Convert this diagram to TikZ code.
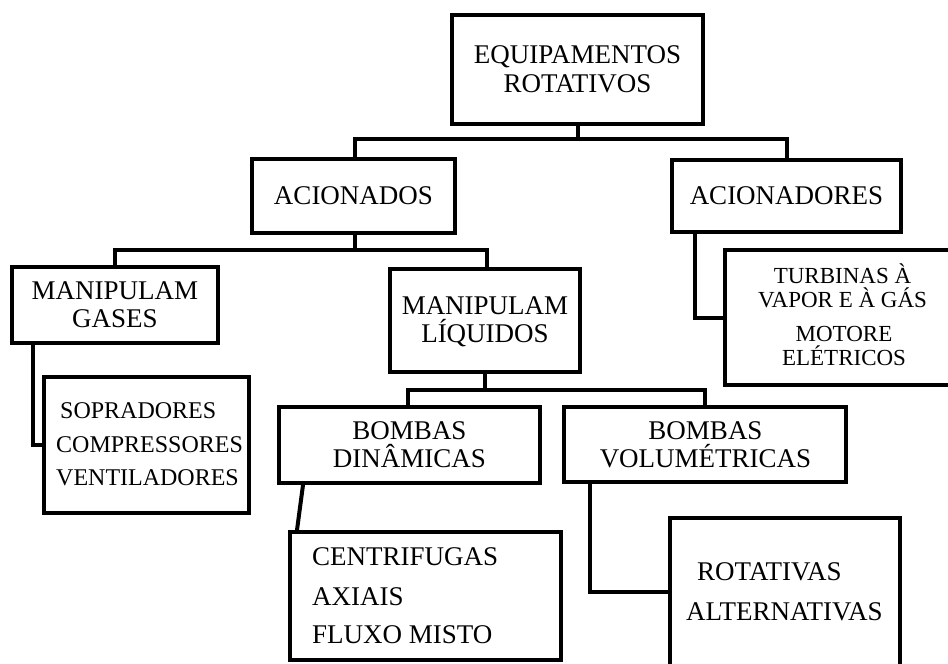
\documentclass[tikz,border=0pt]{standalone}
\usepackage{fontspec}
\setmainfont{Liberation Serif}
\begin{document}
\begin{tikzpicture}[x=1pt,y=-1pt,
  box/.style={draw, line width=4pt, inner sep=0pt, rectangle},
  conn/.style={line width=4pt, line join=miter},
  big/.style={font=\fontsize{27}{28}\selectfont, inner sep=0pt, align=center, anchor=base},
  bigl/.style={font=\fontsize{27}{28}\selectfont, inner sep=0pt, anchor=base west},
  mid/.style={font=\fontsize{24}{25}\selectfont, inner sep=0pt, anchor=base west},
  small/.style={font=\fontsize{23}{24}\selectfont, inner sep=0pt, align=center, anchor=base}]
\path[use as bounding box, clip] (0,0) rectangle (948,664);
\fill[white] (0,0) rectangle (948,664);

% boxes
\node[box, minimum width=251, minimum height=109] (top) at (577.5,69.5) {};
\node[box, minimum width=203, minimum height=74] (acionados) at (353.5,196) {};
\node[box, minimum width=229, minimum height=72] (acionadores) at (786.5,196) {};
\node[box, minimum width=206, minimum height=76] (gases) at (115,305) {};
\node[box, minimum width=190, minimum height=103] (liquidos) at (485,320.5) {};
\node[box, minimum width=205, minimum height=136] (sopr) at (146.5,445) {};
\node[box, minimum width=261, minimum height=76] (dinam) at (409.5,445) {};
\node[box, minimum width=282, minimum height=75] (volum) at (705,444.5) {};
\node[box, minimum width=271, minimum height=128] (centrif) at (425.5,596) {};
\node[box, minimum width=230, minimum height=180] (rotat) at (785,608) {};
\node[box, minimum width=253, minimum height=135] (turb) at (851.5,317.5) {};

% texts (base anchor = baseline of the last line)
\node[big] (ttop) at (577.5,92) {EQUIPAMENTOS\\[1pt]ROTATIVOS};
\node[big] (tacionados) at (353.5,204) {ACIONADOS};
\node[big] (tacionadores) at (786.5,204) {ACIONADORES};
\node[big] (tgases) at (115,327) {MANIPULAM\\GASES};
\node[big] (tliquidos) at (485,342) {MANIPULAM\\LÍQUIDOS};
\node[big] (tdinam) at (409.5,467) {BOMBAS\\DINÂMICAS};
\node[big] (tvolum) at (705.5,467) {BOMBAS\\VOLUMÉTRICAS};
\node[mid] (s1) at (60,418) {SOPRADORES};
\node[mid] (s2) at (56,452) {COMPRESSORES};
\node[mid] (s3) at (56,485) {VENTILADORES};
\node[bigl] (c1) at (312,565) {CENTRIFUGAS};
\node[bigl] (c2) at (312,605) {AXIAIS};
\node[bigl] (c3) at (312,643) {FLUXO MISTO};
\node[bigl] (r1) at (697,580) {ROTATIVAS};
\node[bigl] (r2) at (686,620) {ALTERNATIVAS};
\node[small] (tu1) at (842.5,307) {TURBINAS À\\VAPOR E À GÁS};
\node[small] (tu2) at (844,365) {MOTORE\\ELÉTRICOS};

% connectors
\coordinate (j1) at (577.5,139);
\coordinate (j2) at (355,250);
\coordinate (j3) at (485,390);
\draw[conn] (top.south) -- (j1);
\draw[conn] ([xshift=1.5pt]acionados.north) |- (j1) -| (acionadores.north);
\draw[conn] ([xshift=1.5pt]acionados.south) -- (j2);
\draw[conn] (gases.north) |- (j2) -| ([xshift=2pt]liquidos.north);
\draw[conn] (liquidos.south) -- (j3);
\draw[conn] ([xshift=-1.5pt]dinam.north) |- (j3) -| (volum.north);
\draw[conn] ([xshift=-82pt]gases.south) |- (sopr.west);
\draw[conn] ([xshift=-91.5pt]acionadores.south) |- (turb.west);
\draw[conn] ([xshift=-106.5pt]dinam.south) -- ([xshift=-128.5pt]centrif.north);
\draw[conn] ([xshift=-115pt]volum.south) |- ([yshift=16pt]rotat.west);
\end{tikzpicture}
\end{document}
